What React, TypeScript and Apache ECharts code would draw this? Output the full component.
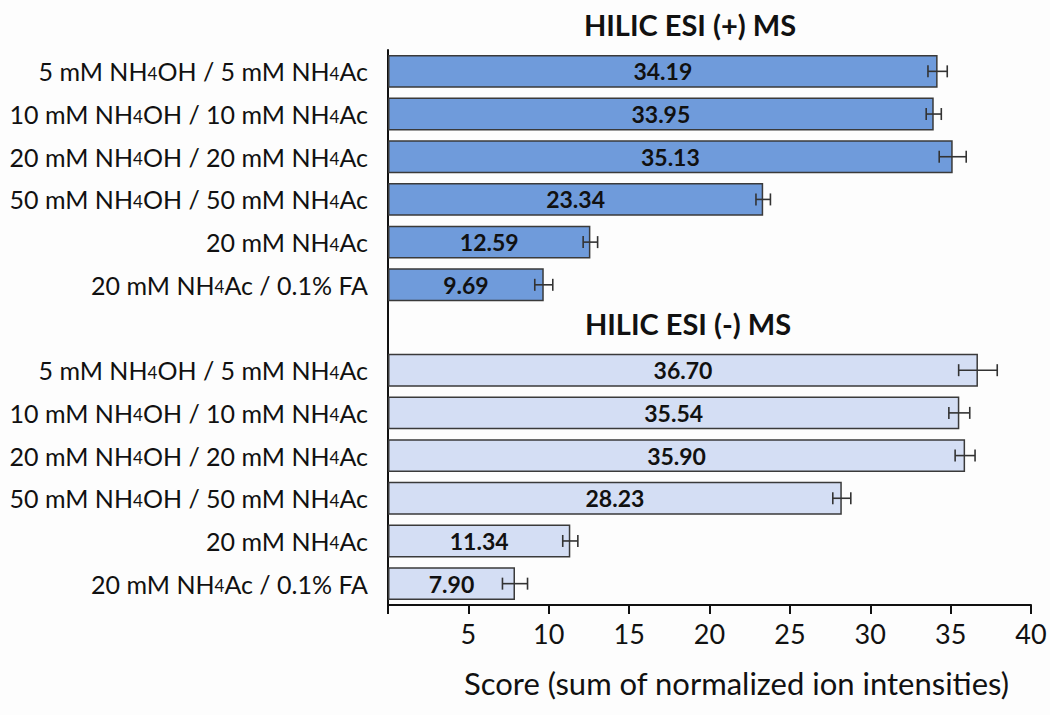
import React, { useEffect, useRef } from "react";
import * as echarts from "echarts";

const posLabels = [
  "5 mM NH4OH / 5 mM NH4Ac",
  "10 mM NH4OH / 10 mM NH4Ac",
  "20 mM NH4OH / 20 mM NH4Ac",
  "50 mM NH4OH / 50 mM NH4Ac",
  "20 mM NH4Ac",
  "20 mM NH4Ac / 0.1% FA",
];
const negLabels = [
  "5 mM NH4OH / 5 mM NH4Ac",
  "10 mM NH4OH / 10 mM NH4Ac",
  "20 mM NH4OH / 20 mM NH4Ac",
  "50 mM NH4OH / 50 mM NH4Ac",
  "20 mM NH4Ac",
  "20 mM NH4Ac / 0.1% FA",
];
const posValues = [34.19, 33.95, 35.13, 23.34, 12.59, 9.69];
const posErrors = [0.6, 0.47, 0.84, 0.45, 0.45, 0.56];
const negValues = [36.7, 35.54, 35.9, 28.23, 11.34, 7.9];
const negErrors = [1.2, 0.65, 0.62, 0.56, 0.47, 0.78];
const posTitle = "HILIC ESI (+) MS";
const negTitle = "HILIC ESI (-) MS";
const xAxisName = "Score (sum of normalized ion intensities)";

const POS_COLOR = "#6f9bdb";
const NEG_COLOR = "#d4def4";
const FONT = "Lato, 'Open Sans', sans-serif";

export default function App() {
  const ref = useRef<HTMLDivElement>(null);
  useEffect(() => {
    if (!ref.current) return;
    const chart = echarts.init(ref.current, undefined, { renderer: "svg" });

    const allLabels = [...posLabels, "", ...negLabels];
    const keys = allLabels.map((_, i) => "c" + i);
    const barData: any[] = [];
    posValues.forEach((v) =>
      barData.push({ value: v, itemStyle: { color: POS_COLOR } })
    );
    barData.push("-");
    negValues.forEach((v) =>
      barData.push({ value: v, itemStyle: { color: NEG_COLOR } })
    );
    const errData: any[] = [];
    posValues.forEach((v, i) =>
      errData.push([i, v - posErrors[i], v + posErrors[i]])
    );
    negValues.forEach((v, i) =>
      errData.push([
        posValues.length + 1 + i,
        v - negErrors[i],
        v + negErrors[i],
      ])
    );

    const fmtLabel = (s: string) => {
      if (!s) return "";
      const parts = s.split("NH4");
      return parts
        .map((p, i) => (i === 0 ? `{a|${p}}` : `{a|NH}{s|4}{a|${p}}`))
        .join("");
    };

    const titleStyle = {
      fontFamily: FONT,
      fontWeight: "bold",
      fontSize: 29,
      color: "#111",
    };

    chart.setOption({
      animation: false,
      backgroundColor: "#fdfdfd",
      title: [
        { text: posTitle, left: 685, top: 5, textAlign: "center", textStyle: titleStyle },
        { text: negTitle, left: 683, top: 304, textAlign: "center", textStyle: titleStyle },
      ],
      grid: { left: 388, right: 19, top: 50, bottom: 110, containLabel: false },
      xAxis: {
        type: "value",
        min: 0,
        max: 40,
        interval: 5,
        name: xAxisName,
        nameLocation: "middle",
        nameGap: 62,
        nameTextStyle: {
          fontFamily: FONT,
          fontSize: 31,
          color: "#111",
          padding: [0, 0, 0, 54],
        },
        axisLine: { show: true, lineStyle: { color: "#111", width: 2 } },
        axisTick: {
          show: true,
          inside: false,
          length: 9,
          lineStyle: { color: "#111", width: 2 },
        },
        axisLabel: {
          fontFamily: FONT,
          fontSize: 27,
          color: "#111",
          margin: 15,
          formatter: (v: number) => (v === 0 ? "" : String(v)),
        },
        splitLine: { show: false },
      },
      yAxis: {
        type: "category",
        inverse: true,
        data: keys,
        axisLine: { show: true, lineStyle: { color: "#111", width: 2 } },
        axisTick: { show: false },
        axisLabel: {
          margin: 20,
          formatter: (_: string, idx: number) => fmtLabel(allLabels[idx]),
          rich: {
            a: { fontFamily: FONT, fontSize: 25, color: "#111" },
            s: {
              fontFamily: FONT,
              fontSize: 17,
              color: "#111",
              verticalAlign: "bottom",
              padding: [0, 0, 2, 0],
            },
          },
        },
      },
      series: [
        {
          type: "bar",
          data: barData,
          barCategoryGap: "23%",
          itemStyle: { borderColor: "#3a3a3a", borderWidth: 1.5 },
          label: {
            show: true,
            position: "inside",
            formatter: (p: any) => Number(p.value).toFixed(2),
            fontFamily: FONT,
            fontWeight: "bold",
            fontSize: 23,
            color: "#111",
          },
          z: 2,
        },
        {
          type: "custom",
          data: errData,
          encode: { x: [1, 2], y: 0 },
          z: 3,
          renderItem: (params: any, api: any) => {
            const idx = api.value(0);
            const lo = api.coord([api.value(1), idx]);
            const hi = api.coord([api.value(2), idx]);
            const cap = 6;
            const style = { stroke: "#333", lineWidth: 1.6 };
            return {
              type: "group",
              children: [
                { type: "line", shape: { x1: lo[0], y1: lo[1], x2: hi[0], y2: hi[1] }, style },
                { type: "line", shape: { x1: lo[0], y1: lo[1] - cap, x2: lo[0], y2: lo[1] + cap }, style },
                { type: "line", shape: { x1: hi[0], y1: hi[1] - cap, x2: hi[0], y2: hi[1] + cap }, style },
              ],
            };
          },
        },
      ],
    });
    return () => chart.dispose();
  }, []);
  return (
    <div
      ref={ref}
      style={{ position: "fixed", left: 0, top: 0, width: 1050, height: 715 }}
    />
  );
}
